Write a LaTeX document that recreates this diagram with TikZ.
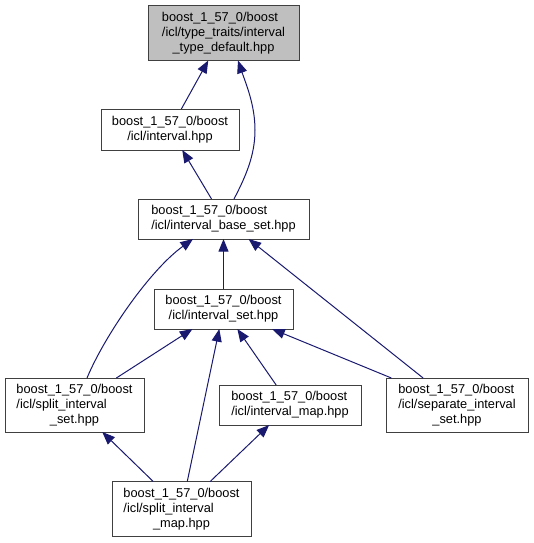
\documentclass[tikz,border=0pt]{standalone}
\usepackage{fontspec}
\setmainfont{Liberation Sans}
\usetikzlibrary{arrows.meta,calc}
\definecolor{edgeblue}{HTML}{191970}
\definecolor{rootgray}{HTML}{BFBFBF}
\newdimen\pxu \pxu=0.75pt
\newcommand{\twoln}[2]{\begin{tabular}{@{}l@{}}#1\\\multicolumn{1}{@{}c@{}}{#2}\end{tabular}}
\newcommand{\threeln}[3]{\begin{tabular}{@{}l@{}}#1\\#2\\\multicolumn{1}{@{}c@{}}{#3}\end{tabular}}
\tikzset{
  hdr/.style={rectangle, draw=black!75, line width=0.75pt, fill=#1, inner sep=0pt, outer sep=0pt,
              font=\fontsize{9.6}{11.25}\selectfont},
  hdr/.default=white,
  incl/.style={-{Triangle[length=9.5pt, width=7.5pt]}, line width=0.75pt, draw=edgeblue},
}

\begin{document}
\begin{tikzpicture}[x=0.75pt, y=-0.75pt]
  \useasboundingbox (0,0) rectangle (534,543);
  \node[hdr=rootgray, minimum width=151\pxu, minimum height=55\pxu] (tdef) at (223.5,33)
    {\threeln{boost\_1\_57\_0/boost}{/icl/type\_traits/interval}{\_type\_default.hpp}};
  \node[hdr, minimum width=138\pxu, minimum height=41\pxu] (ival) at (170,129.5)
    {\twoln{boost\_1\_57\_0/boost}{/icl/interval.hpp}};
  \node[hdr, minimum width=171\pxu, minimum height=40\pxu] (bset) at (223.5,219)
    {\twoln{boost\_1\_57\_0/boost}{/icl/interval\_base\_set.hpp}};
  \node[hdr, minimum width=139\pxu, minimum height=40\pxu] (iset) at (223.5,309)
    {\twoln{boost\_1\_57\_0/boost}{/icl/interval\_set.hpp}};
  \node[hdr, minimum width=139\pxu, minimum height=54\pxu] (ssplit) at (74.5,405)
    {\threeln{boost\_1\_57\_0/boost}{/icl/split\_interval}{\_set.hpp}};
  \node[hdr, minimum width=142\pxu, minimum height=40\pxu] (imap) at (290,405)
    {\twoln{boost\_1\_57\_0/boost}{/icl/interval\_map.hpp}};
  \node[hdr, minimum width=142\pxu, minimum height=54\pxu] (sep) at (457,405)
    {\threeln{boost\_1\_57\_0/boost}{/icl/separate\_interval}{\_set.hpp}};
  \node[hdr, minimum width=139\pxu, minimum height=55\pxu] (smap) at (181.5,509)
    {\threeln{boost\_1\_57\_0/boost}{/icl/split\_interval}{\_map.hpp}};
  % includes
  \draw[incl] (ival) -- (tdef);
  \draw[incl] ($(bset.north)+(10.5,0)$) .. controls (246,176) and (255,155) .. (255,130)
    .. controls (255,105) and (246,84) .. ($(tdef.south)+(14.5,0)$);
  \draw[incl] (bset) -- (ival);
  \draw[incl] (iset) -- (bset);
  \draw[incl] ($(ssplit.north)+(12.5,0)$) .. controls (105,335) and (150,270) .. ($(bset.south)+(-30.5,0)$);
  \draw[incl] (sep) -- (bset);
  \draw[incl] (ssplit) -- (iset);
  \draw[incl] (imap) -- (iset);
  \draw[incl] (sep) -- (iset);
  \draw[incl] (smap) -- (iset);
  \draw[incl] (smap) -- (ssplit);
  \draw[incl] (smap) -- (imap);
\end{tikzpicture}
\end{document}
